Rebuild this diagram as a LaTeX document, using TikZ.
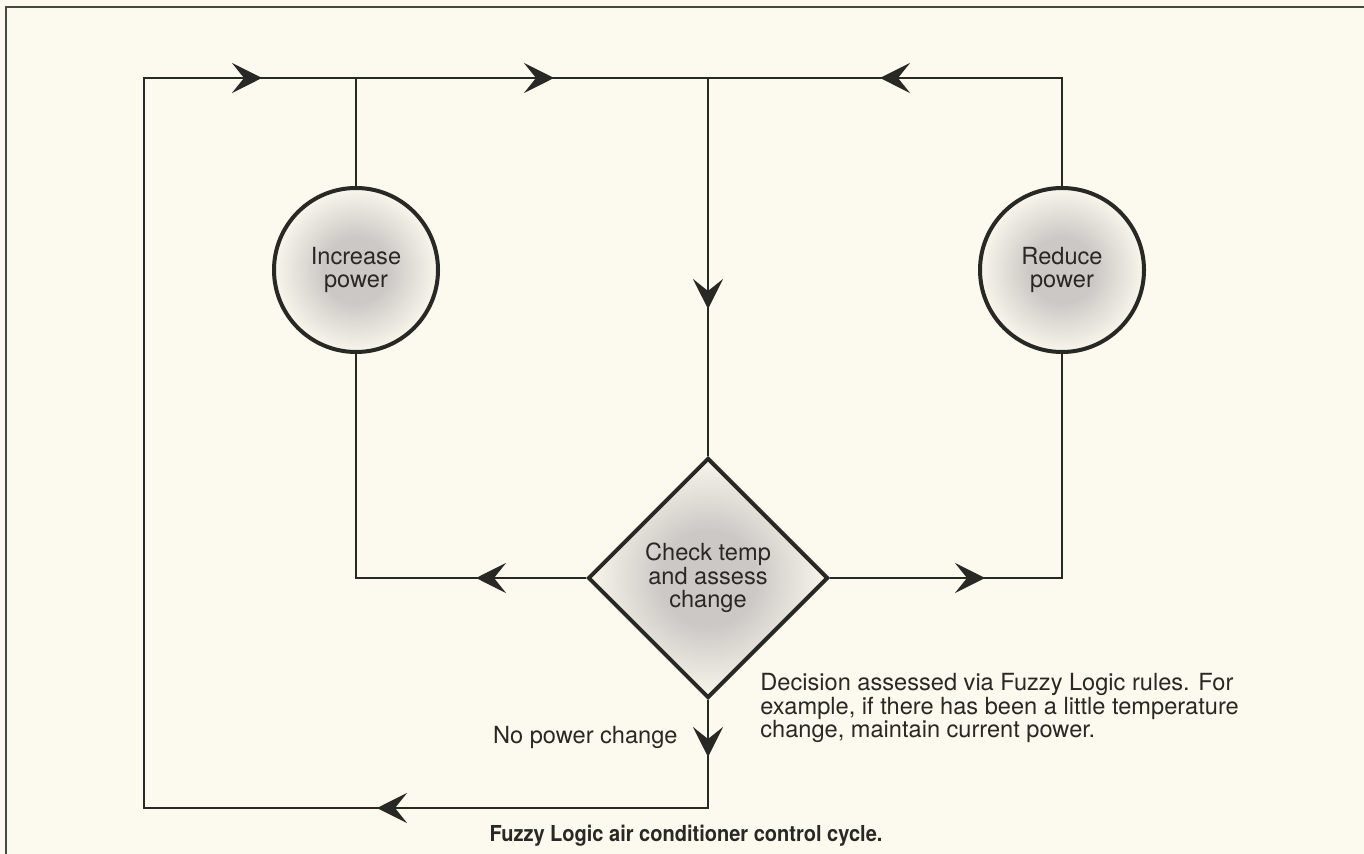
\documentclass[tikz,border=0pt]{standalone}
\usepackage{fontspec}
\setmainfont{TeX Gyre Heros}
\newfontfamily\capfont[FakeStretch=0.91]{TeX Gyre Heros}
\usetikzlibrary{shapes.geometric,arrows.meta,decorations.markings}
\definecolor{bgcream}{RGB}{252,249,238}
\definecolor{ink}{RGB}{40,40,36}
\definecolor{shadegray}{RGB}{204,200,198}
\pgfdeclareradialshading{glow}{\pgfpoint{0bp}{0bp}}{color(0bp)=(shadegray); color(10bp)=(shadegray); color(26bp)=(bgcream); color(50bp)=(bgcream)}
\tikzset{
  flowtip/.tip={Stealth[length=15pt,width=15pt,inset=6pt]},
  flow/.style={draw=ink, line width=1.3pt},
  tipat/.style={postaction={decorate,decoration={markings,mark=at position #1 with {\arrow{flowtip}}}}},
  stage/.style={circle, draw=ink, line width=2pt, shade, shading=glow, minimum size=82pt, inner sep=0pt, align=center, text=ink},
  check/.style={diamond, aspect=1, draw=ink, line width=2pt, shade, shading=glow, minimum width=120pt, minimum height=120pt, inner sep=1pt, align=center, text=ink},
  note/.style={inner sep=0pt, text=ink, align=left}
}
\begin{document}
\begin{tikzpicture}[x=0.5pt, y=-0.5pt, font=\fontsize{11.8}{11.8}\selectfont]
  \fill[bgcream] (0,0) rectangle (1364,854);
  \useasboundingbox (0,0) rectangle (1364,854);
  % frame
  \draw[ink!85, line width=1pt] (6,854) -- (6,7) -- (1364,7);
  % stages
  \node[stage] (inc) at (356,270) {Increase\\power};
  \node[stage] (red) at (1062,270) {Reduce\\power};
  \node[check] (chk) at (708,578) {Check temp\\and assess\\change};
  % corners of the loop
  \coordinate (tl) at (144,78);
  \coordinate (ti) at (356,78);
  \coordinate (tm) at (708,78);
  \coordinate (tr) at (1062,78);
  \coordinate (ml) at (356,578);
  \coordinate (mr) at (1062,578);
  \coordinate (bm) at (708,808);
  \coordinate (bl) at (144,808);
  % connectors
  \draw[flow, tipat=28.5pt, tipat=219.5pt, tipat=760pt, tipat=906pt, tipat=1098.5pt] (chk.south) -- (bm) -- (bl) -- (tl) -- (tm) -- (chk.north);
  \draw[flow, tipat=145pt] (red.north) -- (tr) -- (tm);
  \draw[flow] (inc.north) -- (ti);
  \draw[flow, tipat=55pt] (chk.west) -- (ml) -- (inc.south);
  \draw[flow, tipat=77.5pt] (chk.east) -- (mr) -- (red.south);
  % labels
  \node[note, anchor=base east] (nochg) at (678,743) {No power change};
  \node[note, anchor=north west] (rule) at (760,673) {Decision assessed via Fuzzy Logic rules. For\\example, if there has been a little temperature\\change, maintain current power.};
  \node[note, anchor=base, font=\capfont\bfseries\fontsize{11}{11}\selectfont] (cap) at (686,841) {Fuzzy Logic air conditioner control cycle.};
\end{tikzpicture}
\end{document}
